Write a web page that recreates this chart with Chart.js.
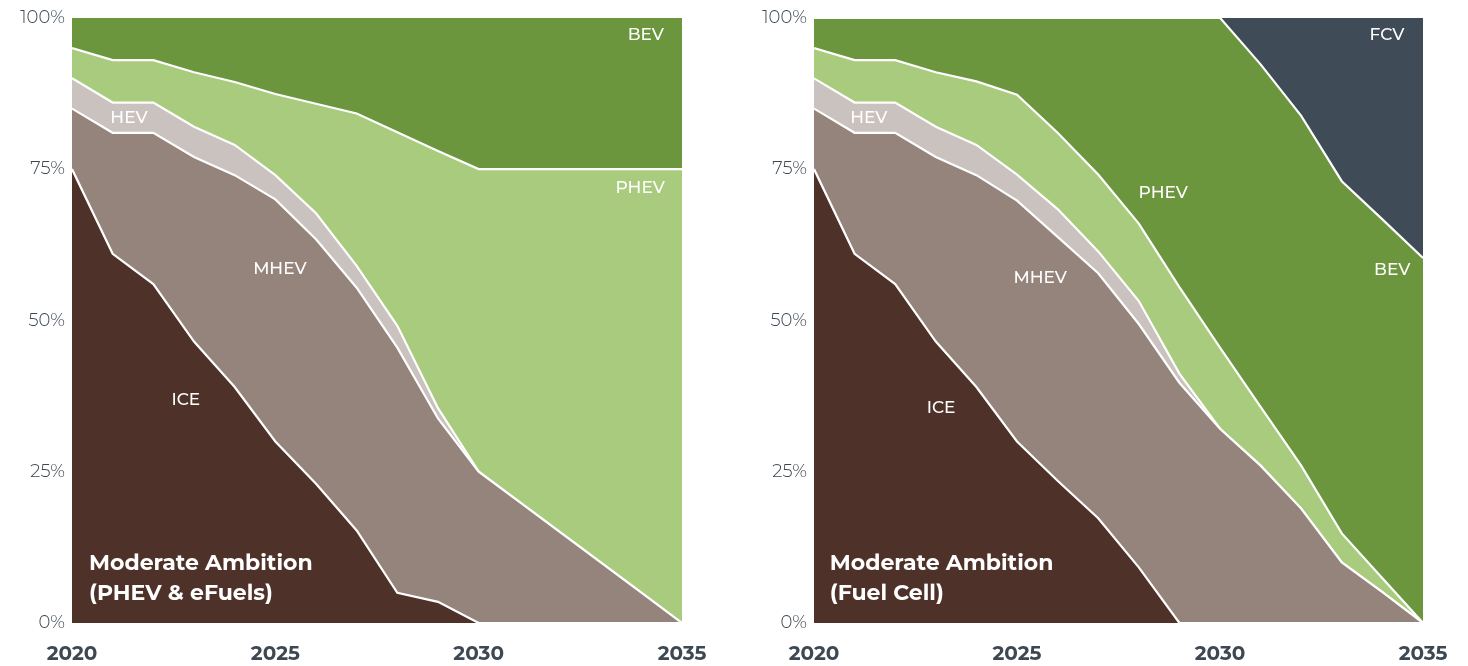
<!DOCTYPE html>
<html>
<head>
<meta charset="utf-8">
<script src="https://cdn.jsdelivr.net/npm/chart.js@4"></script>
<style>
  html, body { margin: 0; padding: 0; background: #ffffff; overflow: hidden; }
  #wrap { position: relative; width: 1468px; height: 666px; }
  canvas { position: absolute; top: 0; }
</style>
</head>
<body>
<div id="wrap">
  <canvas id="left" width="734" height="666" style="left:0px"></canvas>
  <canvas id="right" width="726" height="666" style="left:742px"></canvas>
</div>
<script>
// ---- Data (shares in %, per year) ----
const years = [2020, 2021, 2022, 2023, 2024, 2025, 2026, 2027, 2028, 2029, 2030, 2031, 2032, 2033, 2034, 2035];
const xTickLabels = [2020, 2025, 2030, 2035];
const yTickLabels = ['0%', '25%', '50%', '75%', '100%'];

// Left panel: Moderate Ambition (PHEV & eFuels)
const leftICE  = [75, 61, 56, 46.5, 39, 30, 23, 15.3, 5, 3.5, 0, 0, 0, 0, 0, 0];
const leftMHEV = [10, 20, 25, 30.5, 35, 40, 40.4, 40.1, 40.5, 30.3, 25, 20, 15, 10, 5, 0];
const leftHEV  = [5, 5, 5, 5, 5, 4, 4.3, 3.6, 3.6, 1.7, 0, 0, 0, 0, 0, 0];
const leftPHEV = [5, 7, 7, 9, 10.4, 13.4, 18.1, 25.2, 32, 42.5, 50, 55, 60, 65, 70, 75];
const leftBEV  = [5, 7, 7, 9, 10.6, 12.6, 14.2, 15.8, 18.9, 22, 25, 25, 25, 25, 25, 25];

// Right panel: Moderate Ambition (Fuel Cell)
const rightICE  = [75, 61, 56, 46.5, 39, 30, 23.5, 17.3, 9.2, 0, 0, 0, 0, 0, 0, 0];
const rightMHEV = [10, 20, 25, 30.5, 35, 39.8, 40.3, 40.5, 40.2, 39.7, 32.1, 26, 18.9, 10, 5.1, 0];
const rightHEV  = [5, 5, 5, 5, 5, 4.3, 4.6, 3.6, 3.8, 1.5, 0, 0, 0, 0, 0, 0];
const rightPHEV = [5, 7, 7, 9, 10.5, 13.2, 12.6, 12.7, 12.8, 14.3, 13.4, 9.7, 7.1, 4.8, 2.3, 0];
const rightBEV  = [5, 7, 7, 9, 10.5, 12.7, 19, 25.9, 34, 44.5, 54.5, 56.6, 57.8, 58.2, 59.3, 60.3];
const rightFCV  = [0, 0, 0, 0, 0, 0, 0, 0, 0, 0, 0, 7.7, 16.2, 27, 33.3, 39.7];

const colors = {
  ICE: '#4e3128',
  MHEV: '#95847c',
  HEV: '#cac2bf',
  PHEV: '#a8cb7e',
  BEV: '#6b963d',
  FCV: '#3f4c57'
};

const FONT = '"Montserrat", "Open Sans", "Noto Sans", sans-serif';

function makeDatasets(series) {
  return series.map((s, i) => ({
    label: s.name,
    data: years.map((y, k) => ({ x: y, y: s.values[k] })),
    backgroundColor: colors[s.name],
    borderColor: '#ffffff',
    borderWidth: i === series.length - 1 ? 0 : 2.2,
    pointRadius: 0,
    tension: 0,
    fill: i === 0 ? 'origin' : '-1'
  }));
}

const labelPlugin = {
  id: 'areaLabels',
  afterDatasetsDraw(chart, args, opts) {
    const ctx = chart.ctx;
    const xs = chart.scales.x, ys = chart.scales.y;
    ctx.save();
    ctx.fillStyle = '#ffffff';
    ctx.textBaseline = 'middle';
    (opts.items || []).forEach(it => {
      ctx.font = (it.bold ? '700 ' : '500 ') + it.size + 'px ' + FONT;
      ctx.textAlign = it.align || 'center';
      ctx.fillText(it.text, xs.getPixelForValue(it.x), ys.getPixelForValue(it.y));
    });
    ctx.restore();
  }
};

function makeChart(id, series, items, padRight) {
  return new Chart(document.getElementById(id), {
    type: 'line',
    data: { datasets: makeDatasets(series) },
    plugins: [labelPlugin],
    options: {
      responsive: false,
      animation: false,
      layout: { padding: { top: 16, right: padRight, bottom: 0, left: 0 } },
      plugins: {
        legend: { display: false },
        tooltip: { enabled: false },
        areaLabels: { items: items }
      },
      scales: {
        x: {
          type: 'linear',
          min: years[0],
          max: years[years.length - 1],
          grid: { display: false, drawTicks: false },
          border: { display: false },
          afterBuildTicks: (s) => { s.ticks = xTickLabels.map(v => ({ value: v })); },
          afterFit: (s) => { s.height = 43; },
          ticks: {
            padding: 19,
            color: '#3d4852',
            font: { family: FONT, size: 20, weight: '700' },
            maxRotation: 0,
            callback: (v) => String(v)
          }
        },
        y: {
          stacked: true,
          min: 0,
          max: 100,
          grid: { display: false, drawTicks: false },
          border: { display: false },
          afterBuildTicks: (s) => { s.ticks = yTickLabels.map((t, i) => ({ value: i * 25 })); },
          afterFit: (s) => { s.width = 72; },
          ticks: {
            padding: 7,
            color: '#3d4852',
            font: { family: FONT, size: 18, weight: '300' },
            callback: (v) => yTickLabels[v / 25]
          }
        }
      }
    }
  });
}

makeChart('left', [
  { name: 'ICE', values: leftICE },
  { name: 'MHEV', values: leftMHEV },
  { name: 'HEV', values: leftHEV },
  { name: 'PHEV', values: leftPHEV },
  { name: 'BEV', values: leftBEV }
], [
  { text: 'BEV', x: 2034.11, y: 97.2, size: 17 },
  { text: 'PHEV', x: 2033.97, y: 71.8, size: 17 },
  { text: 'HEV', x: 2021.4, y: 83.4, size: 17 },
  { text: 'MHEV', x: 2025.11, y: 58.5, size: 17 },
  { text: 'ICE', x: 2022.8, y: 36.9, size: 17 },
  { text: 'Moderate Ambition', x: 2020.42, y: 9.9, size: 22, bold: true, align: 'left' },
  { text: '(PHEV & eFuels)', x: 2020.42, y: 4.8, size: 22, bold: true, align: 'left' }
], 52);

makeChart('right', [
  { name: 'ICE', values: rightICE },
  { name: 'MHEV', values: rightMHEV },
  { name: 'HEV', values: rightHEV },
  { name: 'PHEV', values: rightPHEV },
  { name: 'BEV', values: rightBEV },
  { name: 'FCV', values: rightFCV }
], [
  { text: 'FCV', x: 2034.11, y: 97.2, size: 17 },
  { text: 'BEV', x: 2034.24, y: 58.3, size: 17 },
  { text: 'PHEV', x: 2028.6, y: 71, size: 17 },
  { text: 'HEV', x: 2021.35, y: 83.4, size: 17 },
  { text: 'MHEV', x: 2025.57, y: 57, size: 17 },
  { text: 'ICE', x: 2023.13, y: 35.6, size: 17 },
  { text: 'Moderate Ambition', x: 2020.39, y: 9.9, size: 22, bold: true, align: 'left' },
  { text: '(Fuel Cell)', x: 2020.39, y: 4.8, size: 22, bold: true, align: 'left' }
], 45);
</script>
</body>
</html>
